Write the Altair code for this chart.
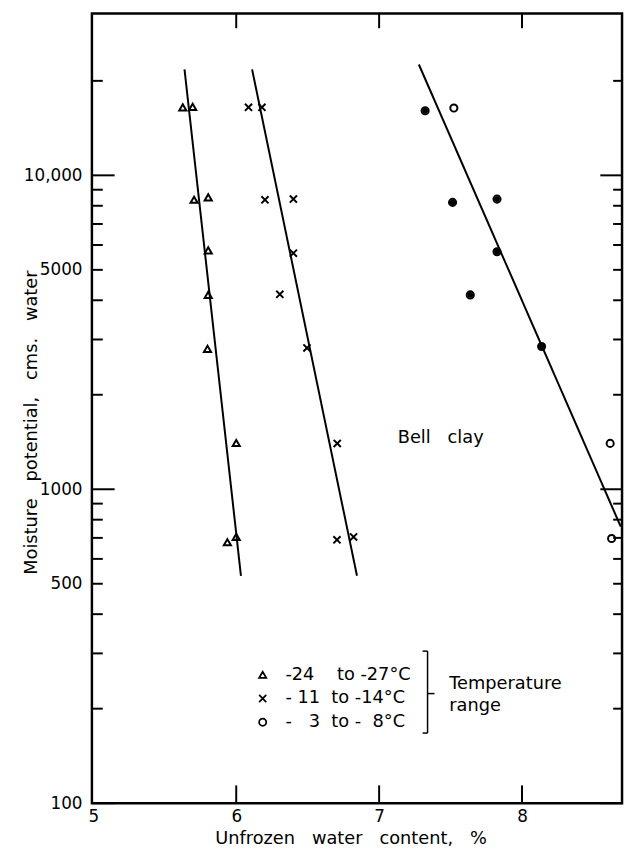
import altair as alt
import pandas as pd

# ---------------- data ----------------
NB = "\u00a0"
FS = "\u2007"  # figure space (digit width)
series_labels = ["-24" + NB * 4 + "to" + NB + "-27°C",
                 "-" + NB + "11" + NB * 2 + "to" + NB + "-14°C",
                 "-" + NB + FS + "3" + NB * 2 + "to" + NB + "-" + FS + "8°C"]

tri_x = [5.626, 5.695, 5.705, 5.804, 5.804, 5.804, 5.799, 6.000, 5.938, 6.000]
tri_y = [16470, 16530, 8360, 8505, 5770, 4160, 2800, 1404, 678, 705]

crs_x = [6.086, 6.180, 6.201, 6.400, 6.400, 6.305, 6.495, 6.707, 6.705, 6.821]
crs_y = [16470, 16470, 8360, 8400, 5650, 4180, 2820, 1400, 690, 705]

cir_x = [7.322, 7.523, 7.514, 7.825, 7.825, 7.638, 8.137, 8.617, 8.627]
cir_y = [16070, 16380, 8200, 8400, 5710, 4160, 2850, 1400, 697]
cir_filled = [True, False, True, True, True, True, True, False, False]

line_x_start = [5.638, 6.111, 7.278]
line_y_start = [21750, 21750, 22550]
line_x_end = [6.033, 6.845, 8.691]
line_y_end = [530, 530, 760]

y_label_values = [100, 500, 1000, 5000, 10000]
x_label_values = [5, 6, 7, 8]
y_major_ticks = [100, 1000, 10000]
y_minor_ticks = [200, 300, 400, 500, 600, 700, 800, 900,
                 2000, 3000, 4000, 5000, 6000, 7000, 8000, 9000, 20000]
x_inner_ticks = [6, 7, 8]

bell_text = ["Bell" + NB * 3 + "clay"]
bell_x = [7.13]
bell_y = [1460]
range_text = ["Temperature", "range"]

x_title = "Unfrozen" + NB * 3 + "water" + NB * 3 + "content," + NB * 3 + "%"
y_title = "Moisture" + NB * 3 + "potential," + NB * 3 + "cms." + NB * 3 + "water"

# ---------------- tables ----------------
pts = pd.DataFrame({
    "x": tri_x + crs_x + cir_x,
    "y": tri_y + crs_y + cir_y,
    "series": [series_labels[0]] * len(tri_x) + [series_labels[1]] * len(crs_x) + [series_labels[2]] * len(cir_x),
})
filled_pts = pd.DataFrame({
    "x": [x for x, f in zip(cir_x, cir_filled) if f],
    "y": [y for y, f in zip(cir_y, cir_filled) if f],
})
lines = pd.DataFrame({
    "x": line_x_start + line_x_end,
    "y": line_y_start + line_y_end,
    "series": series_labels + series_labels,
})

W, H = 537, 800
FONT = "DejaVu Sans"

x_axis = alt.Axis(values=x_label_values, format="d", title=x_title, ticks=False, grid=False,
                  domain=False, labelFontSize=17, labelPadding=6, labelColor="black",
                  titleFontSize=18, titleFontWeight="normal", titleColor="black",
                  titleX=262, titleY=36, titleAlign="center", titleBaseline="middle")
y_axis = alt.Axis(values=y_label_values,
                  labelExpr="datum.value == 10000 ? '10,000' : format(datum.value, 'd')",
                  title=y_title, ticks=False, grid=False, domain=False,
                  labelFontSize=17, labelPadding=10, labelColor="black",
                  titleFontSize=18, titleFontWeight="normal", titleColor="black",
                  titleAngle=270, titleX=-61, titleY=414, titleAlign="center",
                  titleBaseline="middle")

xs = alt.Scale(domain=[4.99, 8.70], nice=False, zero=False)
ys = alt.Scale(type="log", domain=[100, 32800], nice=False)


def X(f="x"):
    return alt.X(f"{f}:Q", scale=xs, axis=x_axis)


def Y(f="y"):
    return alt.Y(f"{f}:Q", scale=ys, axis=y_axis)


line_layer = alt.Chart(lines).mark_line(color="black", strokeWidth=2).encode(
    x=X(), y=Y(), detail="series:N")

shape_scale = alt.Scale(domain=series_labels,
                        range=["triangle-up", "M-1,-1L1,1M-1,1L1,-1", "circle"])
size_scale = alt.Scale(domain=series_labels, range=[52, 52, 18])

legend = alt.Legend(title=None, orient="none", legendX=164, legendY=661,
                    labelFontSize=18, labelFont=FONT, labelColor="black",
                    symbolStrokeColor="black", symbolFillColor="white",
                    symbolStrokeWidth=1.8, rowPadding=6,
                    labelOffset=14, padding=0)

point_layer = alt.Chart(pts).mark_point(filled=False, color="black", strokeWidth=2, opacity=1).encode(
    x=X(), y=Y(),
    shape=alt.Shape("series:N", scale=shape_scale, legend=legend),
    size=alt.Size("series:N", scale=size_scale, legend=legend),
)

filled_layer = alt.Chart(filled_pts).mark_circle(color="black", size=34, opacity=1).encode(
    x=X(), y=Y())

# inward tick marks
ymaj = pd.DataFrame({"y": y_major_ticks})
ymin = pd.DataFrame({"y": y_minor_ticks})
xin = pd.DataFrame({"x": x_inner_ticks})
tick_style = dict(color="black", strokeWidth=2)

left_major = alt.Chart(ymaj).mark_rule(**tick_style).encode(y=Y(), x=alt.value(0), x2=alt.value(23))
left_minor = alt.Chart(ymin).mark_rule(**tick_style).encode(y=Y(), x=alt.value(0), x2=alt.value(11))
right_major = alt.Chart(ymaj).mark_rule(**tick_style).encode(y=Y(), x=alt.value(W), x2=alt.value(W - 22))
right_minor = alt.Chart(ymin).mark_rule(**tick_style).encode(y=Y(), x=alt.value(W), x2=alt.value(W - 9))
bottom_ticks = alt.Chart(xin).mark_rule(**tick_style).encode(x=X(), y=alt.value(H), y2=alt.value(H - 18))
top_ticks = alt.Chart(xin).mark_rule(**tick_style).encode(x=X(), y=alt.value(0), y2=alt.value(15))

bell = alt.Chart(pd.DataFrame({"t": bell_text, "x": bell_x, "y": bell_y})).mark_text(
    align="left", baseline="middle", fontSize=18, font=FONT, color="black").encode(
    x=X(), y=Y(), text="t:N")

# bracket and "Temperature range"
bx, btop, bbot, bmid = 340, 646, 729, 689
one = pd.DataFrame({"k": [0]})
bracket_v = alt.Chart(one).mark_rule(color="black", strokeWidth=1.5).encode(
    x=alt.value(bx), y=alt.value(btop), y2=alt.value(bbot))
bracket_t = alt.Chart(one).mark_rule(color="black", strokeWidth=1.5).encode(
    x=alt.value(bx - 5), x2=alt.value(bx), y=alt.value(btop))
bracket_b = alt.Chart(one).mark_rule(color="black", strokeWidth=1.5).encode(
    x=alt.value(bx - 5), x2=alt.value(bx), y=alt.value(bbot))
bracket_m = alt.Chart(one).mark_rule(color="black", strokeWidth=1.5).encode(
    x=alt.value(bx), x2=alt.value(bx + 7), y=alt.value(bmid))
range1 = alt.Chart(pd.DataFrame({"t": [range_text[0]]})).mark_text(
    align="left", baseline="middle", fontSize=18, font=FONT, color="black").encode(
    x=alt.value(362), y=alt.value(679), text="t:N")
range2 = alt.Chart(pd.DataFrame({"t": [range_text[1]]})).mark_text(
    align="left", baseline="middle", fontSize=18, font=FONT, color="black").encode(
    x=alt.value(362), y=alt.value(702), text="t:N")

chart = alt.layer(
    line_layer, point_layer, filled_layer,
    left_major, left_minor, right_major, right_minor, bottom_ticks, top_ticks,
    bell, bracket_v, bracket_t, bracket_b, bracket_m, range1, range2,
).properties(
    width=W, height=H,
    autosize=alt.AutoSizeParams(type="none"),
    padding={"left": 85, "top": 0, "right": 3, "bottom": 45},
    background="white",
).configure(
    font=FONT
).configure_view(
    stroke="black", strokeWidth=2.5
)

chart.save("out.html", embed_options={"renderer": "svg", "actions": False})
